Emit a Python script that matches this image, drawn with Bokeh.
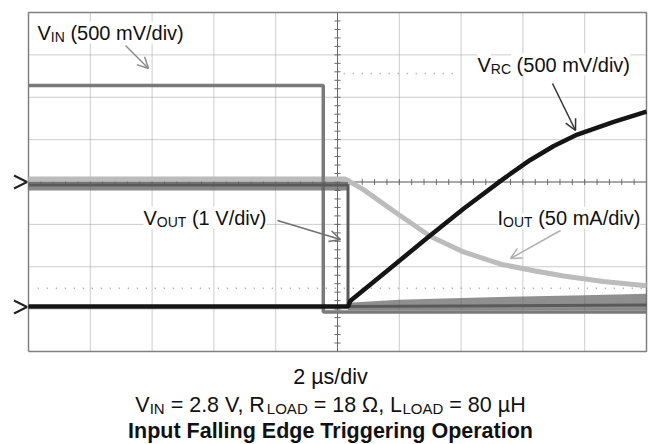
import numpy as np
from bokeh.plotting import figure
from bokeh.models import Range1d, Label, Arrow, OpenHead
from bokeh.embed import file_html
from bokeh.resources import INLINE

# ---------------- data (oscilloscope divisions: time 0..10 div, level 0..8 div) -------------
vin_t = [0.0, 4.77, 4.77, 10.0]
vin_v = [6.28, 6.28, 0.93, 0.93]

vout_t = [0.0, 5.17, 5.17, 10.0]
vout_v = [3.93, 3.93, 1.06, 1.10]
vout_pre_t = [0.0, 5.17]
vout_pre_hi = [4.00, 4.00]
vout_pre_lo = [3.80, 3.80]
vout_post_t = [5.17, 6.0, 7.0, 8.0, 9.0, 10.0]
vout_post_hi = [1.15, 1.22, 1.26, 1.30, 1.33, 1.36]
vout_post_lo = [0.98, 0.98, 0.98, 0.98, 0.98, 0.98]

vrc_t = [0.0, 5.17, 5.21, 5.8, 6.46, 7.05, 7.69, 8.12, 8.5, 8.88, 9.47, 10.0]
vrc_v = [1.06, 1.06, 1.20, 1.90, 2.69, 3.38, 4.08, 4.52, 4.85, 5.12, 5.42, 5.66]

iout_t = [0.0, 5.13, 5.42, 5.97, 6.50, 7.04, 7.64, 8.2, 8.66, 9.3, 10.0]
iout_v = [4.07, 4.07, 3.82, 3.25, 2.72, 2.35, 2.06, 1.90, 1.78, 1.65, 1.55]

ground_levels = [4.0, 1.05]          # channel ground markers (div)
cursor_full_y = 1.49                  # dotted cursor line
cursor_short = ([5.1, 6.9], 6.56)     # short dotted cursor line

n_xdiv, n_ydiv = 10, 8

# --------------- geometry helpers (page pixel -> division units) ---------------
PX0, PY0, DXP, DYP = 28.0, 351.0, 61.8, 42.375
TEXT_DY = -8  # correction for where the svg backend draws the text baseline
def dx(px):
    return (px - PX0) / DXP
def dy(py):
    return (PY0 - py) / DYP

W, H = 659, 444
p = figure(width=W, height=H, output_backend="svg", toolbar_location=None,
           x_range=Range1d(dx(0), dx(W)), y_range=Range1d(dy(H), dy(0)),
           min_border=0, x_axis_location=None, y_axis_location=None)
p.grid.visible = False
p.outline_line_color = None
p.background_fill_color = "white"
p.border_fill_color = "white"

# graticule
gx = list(range(1, n_xdiv))
gy = list(range(1, n_ydiv))
p.segment(x0=gx, y0=[0] * len(gx), x1=gx, y1=[n_ydiv] * len(gx),
          line_color="#9a9a9a", line_width=1, line_dash="1 1")
p.segment(x0=[0] * len(gy), y0=gy, x1=[n_xdiv] * len(gy), y1=gy,
          line_color="#9a9a9a", line_width=1, line_dash="1 1")
p.line([0, n_xdiv, n_xdiv, 0, 0], [0, 0, n_ydiv, n_ydiv, 0], line_color="#808080", line_width=1.5)
# centre axes with minor ticks
p.segment(x0=[0, n_xdiv / 2], y0=[n_ydiv / 2, 0], x1=[n_xdiv, n_xdiv / 2], y1=[n_ydiv / 2, n_ydiv],
          line_color="#6a6a6a", line_width=1)
tx = np.round(np.arange(0.2, n_xdiv, 0.2), 3)
ty = np.round(np.arange(0.2, n_ydiv, 0.2), 3)
p.segment(x0=tx, y0=n_ydiv / 2 - 0.07, x1=tx, y1=n_ydiv / 2 + 0.07, line_color="#6a6a6a", line_width=1)
p.segment(x0=n_xdiv / 2 - 0.05, y0=ty, x1=n_xdiv / 2 + 0.05, y1=ty, line_color="#6a6a6a", line_width=1)
# cursor dotted lines
p.line([0.15, 9.95], [cursor_full_y, cursor_full_y], line_color="#9a9a9a", line_dash="1 8", line_width=1.5)
p.line(cursor_short[0], [cursor_short[1]] * 2, line_color="#9a9a9a", line_dash="1 8", line_width=1.5)

# traces
p.line(iout_t, iout_v, line_color="#bcbcbc", line_width=5)
p.line(vin_t, vin_v, line_color="#7a7a7a", line_width=3.5)
p.varea(x=vout_pre_t, y1=vout_pre_lo, y2=vout_pre_hi, fill_color="#626262", fill_alpha=0.75)
p.varea(x=vout_post_t, y1=vout_post_lo, y2=vout_post_hi, fill_color="#606060", fill_alpha=0.7)
p.line(vout_t, vout_v, line_color="#5a5a5a", line_width=3)
p.line(vrc_t, vrc_v, line_color="#151515", line_width=4.5)

# ground markers
for g in ground_levels:
    p.add_layout(Arrow(end=OpenHead(size=13, line_width=2, line_color="#222222"),
                       x_start=dx(20), y_start=g, x_end=dx(26.5), y_end=g, line_alpha=0))

# --------------- rich text with subscripts ---------------
ARIAL = {' ': 278, '\u00a0': 278, '(': 333, ')': 333, 'm': 833, '/': 278, 'd': 556, 'i': 222,
         'v': 500, '=': 584, '.': 278, ',': 278, 'Ω': 768, 'µ': 576, 'H': 722, 's': 500,
         'V': 667, 'I': 278, 'N': 722, 'R': 722, 'C': 722, 'O': 778, 'U': 722, 'T': 611,
         'L': 556, 'A': 667, 'D': 722}
for d_ in '0123456789':
    ARIAL[d_] = 556

def tw(s, size):
    return sum(ARIAL.get(c, 556) for c in s) * size / 1000.0

FONT = "Liberation Sans"
def rich(parts, x_px, base_py, size=20, sub=14, drop=4, align="left", bg=True):
    parts = [(t.replace(" ", "\u00a0"), s) for t, s in parts]
    total = sum(tw(t, sub if s else size) for t, s in parts)
    x = x_px - (total / 2 if align == "center" else 0)
    for t, s in parts:
        fs = sub if s else size
        kw = dict(background_fill_color="white") if bg else {}
        p.add_layout(Label(x=dx(x), y=dy(base_py + TEXT_DY + (drop if s else 0)), text=t,
                           text_font=FONT, text_font_size=f"{fs}px", text_color="#111111",
                           text_align="left", text_baseline="alphabetic", **kw))
        x += tw(t, fs)

# annotation arrows
def arrow(x0, y0, x1, y1, color):
    p.add_layout(Arrow(end=OpenHead(size=11, line_width=1.5, line_color=color),
                       x_start=dx(x0), y_start=dy(y0), x_end=dx(x1), y_end=dy(y1),
                       line_color=color, line_width=1.5))

arrow(125, 45, 148, 68, "#8a8a8a")
arrow(552, 83, 575, 130, "#333333")
arrow(277, 220, 340, 239, "#707070")
arrow(560, 230, 510, 258, "#b0b0b0")

rich([("V", False), ("IN", True), (" (500 mV/div)", False)], 37, 40)
rich([("V", False), ("RC", True), (" (500 mV/div)", False)], 477, 72)
rich([("V", False), ("OUT", True), (" (1 V/div)", False)], 143, 225)
rich([("I", False), ("OUT", True), (" (50 mA/div)", False)], 497, 225)

# captions
CAP = 21.5
p.add_layout(Label(x=dx(330), y=dy(384 + TEXT_DY), text="2 µs/div", text_font=FONT,
                   text_font_size=f"{CAP}px", text_align="center", text_baseline="alphabetic",
                   text_color="#111111"))
rich([("V", False), ("IN", True), (" = 2.8 V, R", False), ("LOAD", True), (" = 18 Ω, L", False),
      ("LOAD", True), (" = 80 µH", False)], 330, 412, size=CAP, sub=15, align="center", bg=False)
p.add_layout(Label(x=dx(330), y=dy(438 + TEXT_DY), text="Input Falling Edge Triggering Operation",
                   text_font=FONT, text_font_size=f"{CAP}px", text_font_style="bold",
                   text_align="center", text_baseline="alphabetic", text_color="#111111"))

open("out.html", "w").write(file_html(p, INLINE))
